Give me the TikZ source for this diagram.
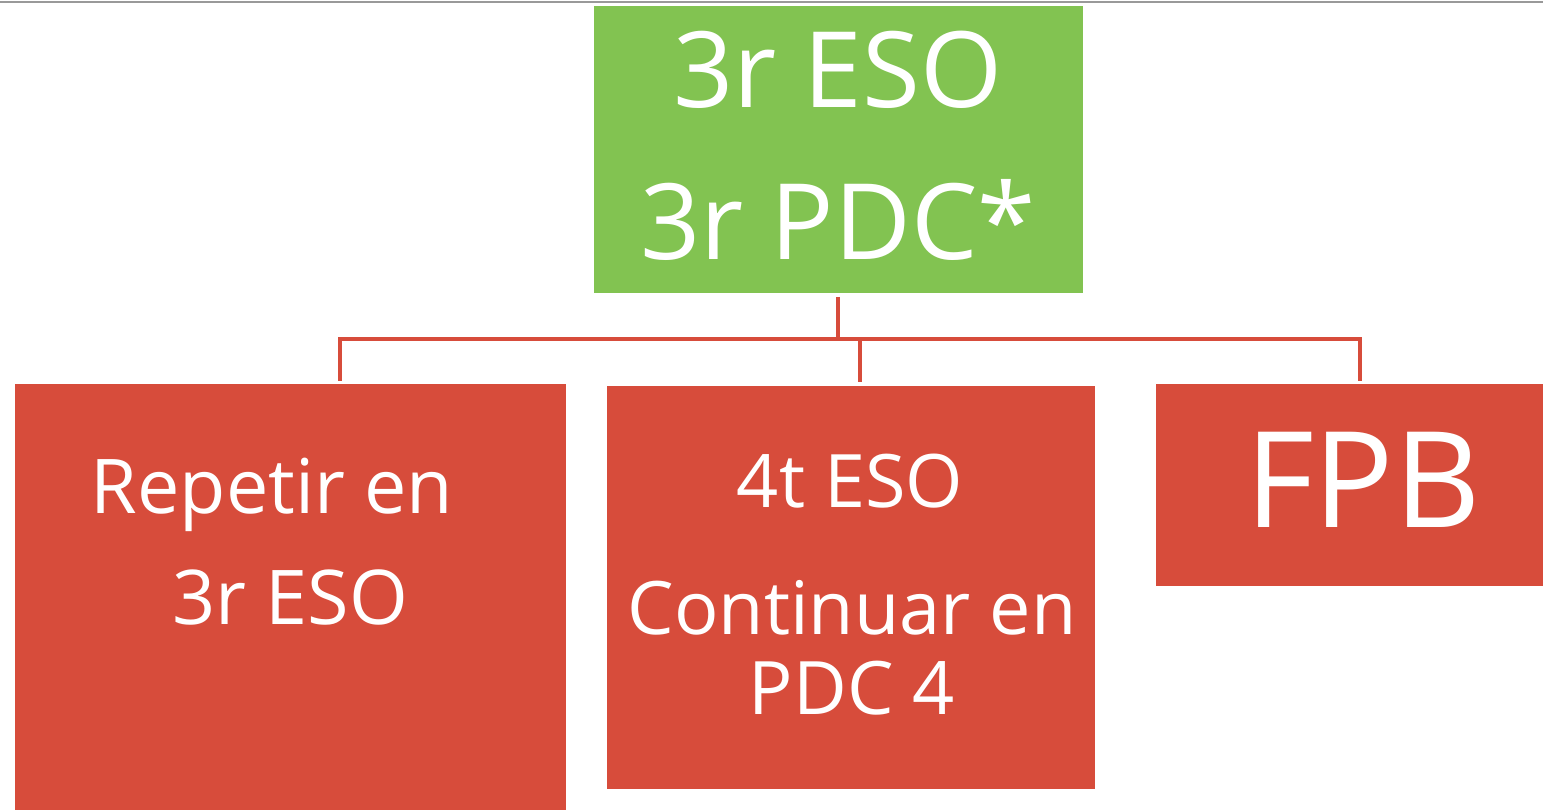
\documentclass[tikz,border=0pt]{standalone}
\usepackage{fontspec}
\setmainfont{Open Sans}
\usepackage{tikz}
\usetikzlibrary{positioning,fit,calc}
\definecolor{boxgreen}{RGB}{130,195,81}
\definecolor{boxred}{RGB}{215,76,59}
\newcommand\topfnt{\fontsize{60}{72}\selectfont}
\newcommand\repfnt{\fontsize{43}{52}\selectfont}
\newcommand\midfnt{\fontsize{42}{50}\selectfont}
\newcommand\fpbfnt{\fontsize{76}{90}\selectfont}

\begin{document}
\begin{tikzpicture}[x=0.02cm,y=-0.02cm,
  block/.style={inner sep=0pt,outer sep=0pt,fill=#1},
  link/.style={draw=boxred,line width=2.3pt},
  txt/.style={text=white,anchor=base,inner sep=0pt}]
\useasboundingbox (0,0) rectangle (1543,810);
\draw[gray!80,line width=1pt] (0,2) -- (1543,2);
\node[block=boxgreen,fit={(594,6) (1083,293)}] (Top) {};
\node[block=boxred,fit={(15,384) (566,810)}] (Rep) {};
\node[block=boxred,fit={(607,386) (1095,789)}] (Mid) {};
\node[block=boxred,fit={(1156,384) (1543,586)}] (FPB) {};
\node[txt,font=\topfnt] (T1) at (838,108) {3r ESO};
\node[txt,font=\topfnt] (T2) at (838,260) {3r PDC*};
\node[txt,font=\repfnt] (R1) at (272,514) {Repetir en};
\node[txt,font=\repfnt] (R2) at (290,625) {3r ESO};
\node[txt,font=\midfnt] (M1) at (850,508) {4t ESO};
\node[txt,font=\midfnt] (M2) at (852,635) {Continuar en};
\node[txt,font=\midfnt] (M3) at (852,715) {PDC 4};
\node[txt,font=\fpbfnt] (F1) at (1363,528) {FPB};
\coordinate (Stem) at (838,297);
\coordinate (Bus) at (838,339);
\coordinate (RepIn) at (340,381);
\coordinate (MidIn) at (860,382);
\coordinate (FPBIn) at (1360,381);
\draw[link] (Stem) -- (Bus);
\draw[link] (Bus) -| (RepIn);
\draw[link] (Bus) -| (MidIn);
\draw[link] (Bus) -| (FPBIn);
\end{tikzpicture}
\end{document}
